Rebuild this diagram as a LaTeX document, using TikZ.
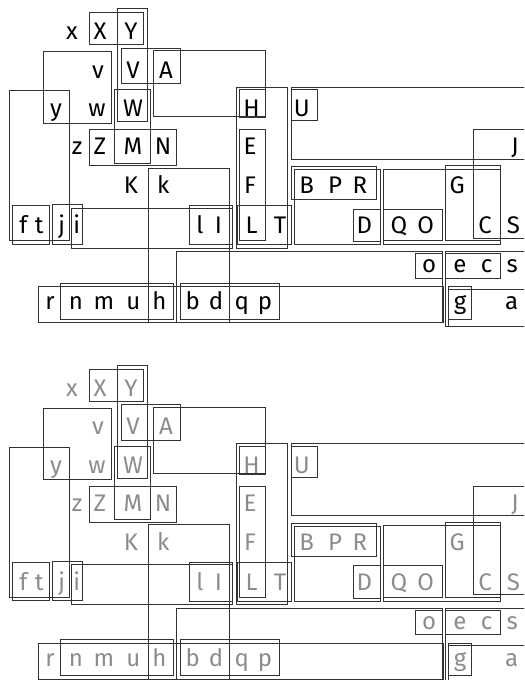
\documentclass[tikz,border=0pt]{standalone}
\usepackage{fontspec}
\setmainfont{Fira Sans}
\usepackage{tikz}
\tikzstyle{bx} = [draw=black!80, line width=0.75pt]
\tikzstyle{ch} = [inner sep=0pt, anchor=base, font=\fontsize{18}{20}\selectfont]

% one panel of letters and their frames, #1 = prefix of the node names
\newcommand{\framepanel}[1]{%
  % row 1
  \node[ch] (#1x) at (72,40) {x};
  \node[ch] (#1X) at (100,40) {X};
  \node[ch] (#1Y) at (131,40) {Y};
  % row 2
  \node[ch] (#1v) at (98,78.3) {v};
  \node[ch] (#1V) at (133,78.3) {V};
  \node[ch] (#1A) at (166,78.3) {A};
  % row 3
  \node[ch] (#1y) at (56,116.7) {y};
  \node[ch] (#1w) at (97,116.7) {w};
  \node[ch] (#1W) at (133,116.7) {W};
  \node[ch] (#1H) at (251.5,116.7) {H};
  \node[ch] (#1U) at (301.7,116.7) {U};
  % row 4
  \node[ch] (#1z) at (77,155) {z};
  \node[ch] (#1Z) at (100,155) {Z};
  \node[ch] (#1M) at (133,155) {M};
  \node[ch] (#1N) at (163,155) {N};
  \node[ch] (#1E) at (250,155) {E};
  \node[ch] (#1J) at (515,155) {J};
  % row 5
  \node[ch] (#1K) at (131,194) {K};
  \node[ch] (#1k) at (163.3,194) {k};
  \node[ch] (#1F) at (250,194) {F};
  \node[ch] (#1B) at (306.7,194) {B};
  \node[ch] (#1P) at (335,194) {P};
  \node[ch] (#1R) at (360,194) {R};
  \node[ch] (#1G) at (457.3,194) {G};
  % row 6
  \node[ch] (#1f) at (23.3,233.5) {f};
  \node[ch] (#1t) at (39.3,233.5) {t};
  \node[ch] (#1j) at (61.7,233.5) {j};
  \node[ch] (#1i) at (76.7,233.5) {i};
  \node[ch] (#1l) at (200,233.5) {l};
  \node[ch] (#1I) at (218.3,233.5) {I};
  \node[ch] (#1L) at (251.7,233.5) {L};
  \node[ch] (#1T) at (280,233.5) {T};
  \node[ch] (#1D) at (364.3,233.5) {D};
  \node[ch] (#1Q) at (399,233.5) {Q};
  \node[ch] (#1O) at (425.7,233.5) {O};
  \node[ch] (#1C) at (485,233.5) {C};
  \node[ch] (#1S) at (513.3,233.5) {S};
  % row 7
  \node[ch] (#1o) at (429,272.7) {o};
  \node[ch] (#1e) at (460,272.7) {e};
  \node[ch] (#1c) at (486.7,272.7) {c};
  \node[ch] (#1s) at (512.3,272.7) {s};
  % row 8
  \node[ch] (#1r) at (50,310) {r};
  \node[ch] (#1n) at (76,310) {n};
  \node[ch] (#1m) at (104,310) {m};
  \node[ch] (#1u) at (133.3,310) {u};
  \node[ch] (#1h) at (159.3,310) {h};
  \node[ch] (#1b) at (192.7,310) {b};
  \node[ch] (#1d) at (216,310) {d};
  \node[ch] (#1q) at (241.7,310) {q};
  \node[ch] (#1p) at (265,310) {p};
  \node[ch] (#1g) at (460,310) {g};
  \node[ch] (#1a) at (511.7,310) {a};
  % frames
  \draw[bx] (89,13) rectangle (143,45);
  \draw[bx] (117,9) rectangle (147,122);
  \draw[bx] (121,48.3) rectangle (180,84);
  \draw[bx] (153,50.7) rectangle (265.7,117);
  \draw[bx] (43.3,51.7) rectangle (111.7,123.3);
  \draw[bx] (9.3,90.7) rectangle (69,240.7);
  \draw[bx] (114.3,90) rectangle (150,163.3);
  \draw[bx] (89,130) rectangle (176,165.7);
  \draw[bx] (236,87.3) rectangle (287.7,248.3);
  \draw[bx] (239,90) rectangle (265.3,118);
  \draw[bx] (291,87.3) rectangle (530,159.3);
  \draw[bx] (291,90) rectangle (317.7,120.7);
  \draw[bx] (239,130) rectangle (265.7,240.7);
  \draw[bx] (237,206) rectangle (291,245);
  \draw[bx] (473.3,130) rectangle (530,238.3);
  \draw[bx] (291,166.7) rectangle (376.7,200);
  \draw[bx] (294.3,170) rectangle (380,245);
  \draw[bx] (353.3,209.3) rectangle (380,241.7);
  \draw[bx] (383.3,209.3) rectangle (442.3,241);
  \draw[bx] (383.3,169.3) rectangle (500.7,245);
  \draw[bx] (445,166) rectangle (500.7,240.7);
  \draw[bx] (12.7,206) rectangle (49.3,244.3);
  \draw[bx] (52.3,205) rectangle (82.7,244.3);
  \draw[bx] (71.7,208.3) rectangle (232.3,248.3);
  \draw[bx] (189.3,206) rectangle (232.3,245);
  \draw[bx] (148.3,168.3) rectangle (229.3,322.6);
  \draw[bx] (176.7,251.7) rectangle (442.3,322.6);
  \draw[bx] (415.7,254) rectangle (442.3,278.3);
  \draw[bx] (445,254) rectangle (500.7,278.3);
  \draw[bx] (445,251.7) rectangle (530,326);
  \draw[bx] (38.3,286.7) rectangle (443,322.6);
  \draw[bx] (60.7,283.3) rectangle (173.3,319.3);
  \draw[bx] (180,283.3) rectangle (279.3,319.3);
  \draw[bx] (448.3,286.7) rectangle (471,319.3);
  \draw[bx] (448.3,289.3) rectangle (530,326);
}

\begin{document}
\begin{tikzpicture}[x=0.75pt, y=-0.75pt]
  \clip (0,0) rectangle (524,680);
  \framepanel{t}
  % blurred copy
  \begin{scope}[shift={(0,356.5)}, ch/.append style={text=black!45}]
    \framepanel{u}
  \end{scope}
\end{tikzpicture}
\end{document}
